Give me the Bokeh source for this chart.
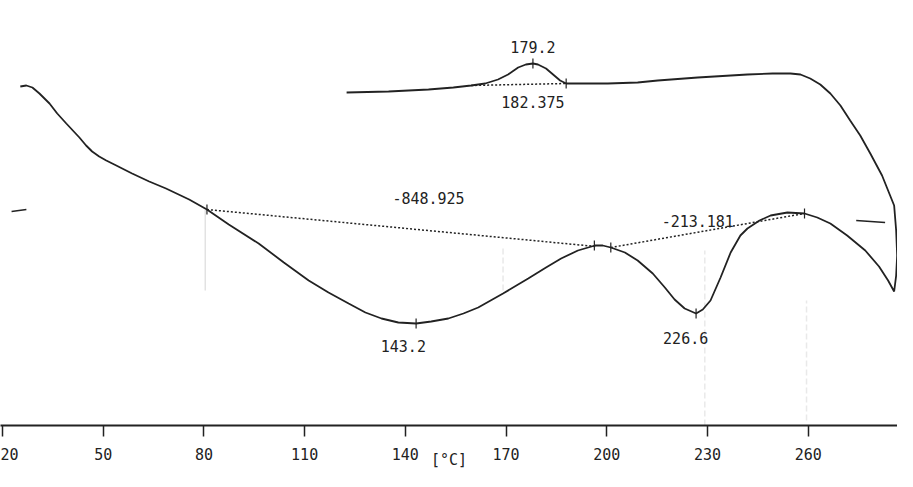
from bokeh.plotting import figure
from bokeh.models import Range1d, FixedTicker, ColumnDataSource
from bokeh.core.properties import value
from bokeh.embed import file_html
from bokeh.resources import INLINE

# ---- DSC trace (temperature in degC, heat flow in arbitrary units) ----
# heating run followed by cooling run (path)
temp = [25.3, 27.1, 28.9, 31.0, 34.0, 36.3, 39.0, 42.9, 44.9, 46.7, 48.8, 50.9, 53.3,
        58.6, 63.7, 68.7,
        75.6, 80.9, 87.4, 96.3, 103.8, 111.2, 117.1, 123.1, 128.1, 132.9, 137.9, 143.2,
        147.7, 152.8, 157.3, 161.7, 169.1, 176.6, 181.9, 186.4, 191.4, 196.5, 198.8,
        201.2, 205.4, 209.2, 213.7, 217.3, 220.2, 223.2, 226.6, 228.6, 230.9, 233.9,
        236.9, 239.8, 241.9, 245.5, 248.8, 253.8, 258.9, 262.7, 266.6, 271.6, 277.0,
        281.1, 283.8, 285.6,
        286.2, 286.5, 286.2, 285.6, 284.4, 282.0, 278.5, 275.5, 272.5, 269.6, 266.6,
        263.6, 260.6, 257.7, 254.7, 249.4, 241.9, 227.1, 215.2, 209.2, 200.3, 194.4,
        187.9, 186.1, 184.0, 181.9, 179.5, 178.0, 175.9, 173.6, 170.6, 167.6, 163.8,
        159.6, 154.3, 146.9, 135.0, 122.5]
heat = [33.9, 34.0, 33.8, 33.2, 32.2, 31.2, 30.2, 28.8, 28.0, 27.4, 26.9, 26.5, 26.1,
        25.2, 24.4, 23.7,
        22.6, 21.6, 20.1, 18.2, 16.3, 14.5, 13.3, 12.2, 11.3, 10.7, 10.3, 10.2,
        10.4, 10.7, 11.2, 11.8, 13.2, 14.7, 15.8, 16.7, 17.5, 18.0, 18.0,
        17.8, 17.3, 16.5, 15.2, 13.8, 12.6, 11.7, 11.2, 11.6, 12.5, 14.8,
        17.3, 19.0, 19.7, 20.5, 21.0, 21.3, 21.2, 20.8, 20.2, 19.0, 17.5,
        15.9, 14.5, 13.4,
        15.0, 17.0, 19.5, 22.0, 23.0, 25.0, 27.2, 29.0, 30.5, 32.0, 33.2,
        34.1, 34.7, 35.1, 35.2, 35.2, 35.1, 34.8, 34.5, 34.3, 34.2, 34.2,
        34.2, 34.5, 35.1, 35.7, 36.1, 36.2, 36.1, 35.8, 35.1, 34.6, 34.2,
        34.0, 33.8, 33.6, 33.4, 33.3]

# integration baselines (dotted)
base1_t = [80.9, 196.8]
base1_h = [21.6, 17.9]
base2_t = [201.2, 258.9]
base2_h = [17.8, 21.2]
base3_t = [159.6, 187.9]
base3_h = [34.0, 34.2]

# small vertical marks on the trace
mark_t = [80.9, 143.2, 196.3, 201.2, 226.6, 258.9, 178.0, 187.9]
mark_h = [21.6, 10.2, 18.0, 17.8, 11.2, 21.2, 36.2, 34.2]

# annotations
ann_text = ["179.2", "182.375", "-848.925", "-213.181", "143.2", "226.6"]
ann_t = [178.0, 178.0, 146.9, 227.1, 139.4, 223.5]
ann_h = [37.9, 32.4, 22.8, 20.5, 8.0, 8.8]

ticks = [20, 50, 80, 110, 140, 170, 200, 230, 260]
x_unit = "[°C]"

INK = "#222222"
FONT = "DejaVu Sans Mono"

p = figure(width=897, height=471, output_backend="svg", toolbar_location=None,
           x_range=Range1d(19.4, 286.6), y_range=Range1d(0, 42.5),
           min_border_left=0, min_border_right=0, min_border_top=0,
           min_border_bottom=46)
p.outline_line_color = None
p.grid.visible = False
p.yaxis.visible = False
p.background_fill_color = "white"
p.border_fill_color = "white"

ax = p.xaxis[0]
ax.ticker = FixedTicker(ticks=ticks)
ax.axis_line_color = INK
ax.axis_line_width = 2
ax.major_tick_line_color = INK
ax.major_tick_line_width = 1.5
ax.major_tick_in = 0
ax.major_tick_out = 11
ax.minor_tick_line_color = None
ax.major_label_standoff = 11
ax.major_label_text_font = FONT
ax.major_label_text_font_size = "15px"
ax.major_label_text_color = INK
ax.axis_label = x_unit
ax.axis_label_text_font = FONT
ax.axis_label_text_font_size = "15px"
ax.axis_label_text_font_style = "normal"
ax.axis_label_text_color = INK
ax.axis_label_standoff = -12

# faint ghost traces of the scanned page
p.segment(x0=[259.5, 229.2, 169.1], y0=[0.5, 0.0, 13.5],
          x1=[259.5, 229.2, 169.1], y1=[12.5, 17.5, 18.0],
          line_color="#e9e9e9", line_width=1.5, line_dash="6 3")
p.segment(x0=[80.4], y0=[13.5], x1=[80.4], y1=[21.6], line_color="#e2e2e2", line_width=1.5)

# main trace
p.line(temp, heat, line_color=INK, line_width=1.8)

# baselines
for bt, bh in ((base1_t, base1_h), (base2_t, base2_h), (base3_t, base3_h)):
    p.line(bt, bh, line_color=INK, line_width=1.5, line_dash="2 2")

# vertical marks
p.segment(x0=mark_t, y0=[h - 0.5 for h in mark_h], x1=mark_t, y1=[h + 0.5 for h in mark_h],
          line_color=INK, line_width=1.2)

# start / end markers of the heating run
p.segment(x0=[22.7, 274.3], y0=[21.4, 20.5], x1=[27.1, 282.9], y1=[21.6, 20.3],
          line_color=INK, line_width=1.4)

src = ColumnDataSource(dict(x=ann_t, y=ann_h, t=ann_text))
p.text(x="x", y="y", text="t", source=src, text_font=value(FONT),
       text_font_size="15px", text_color=INK, text_align="center",
       text_baseline="middle")

open("out.html", "w").write(file_html(p, INLINE))
